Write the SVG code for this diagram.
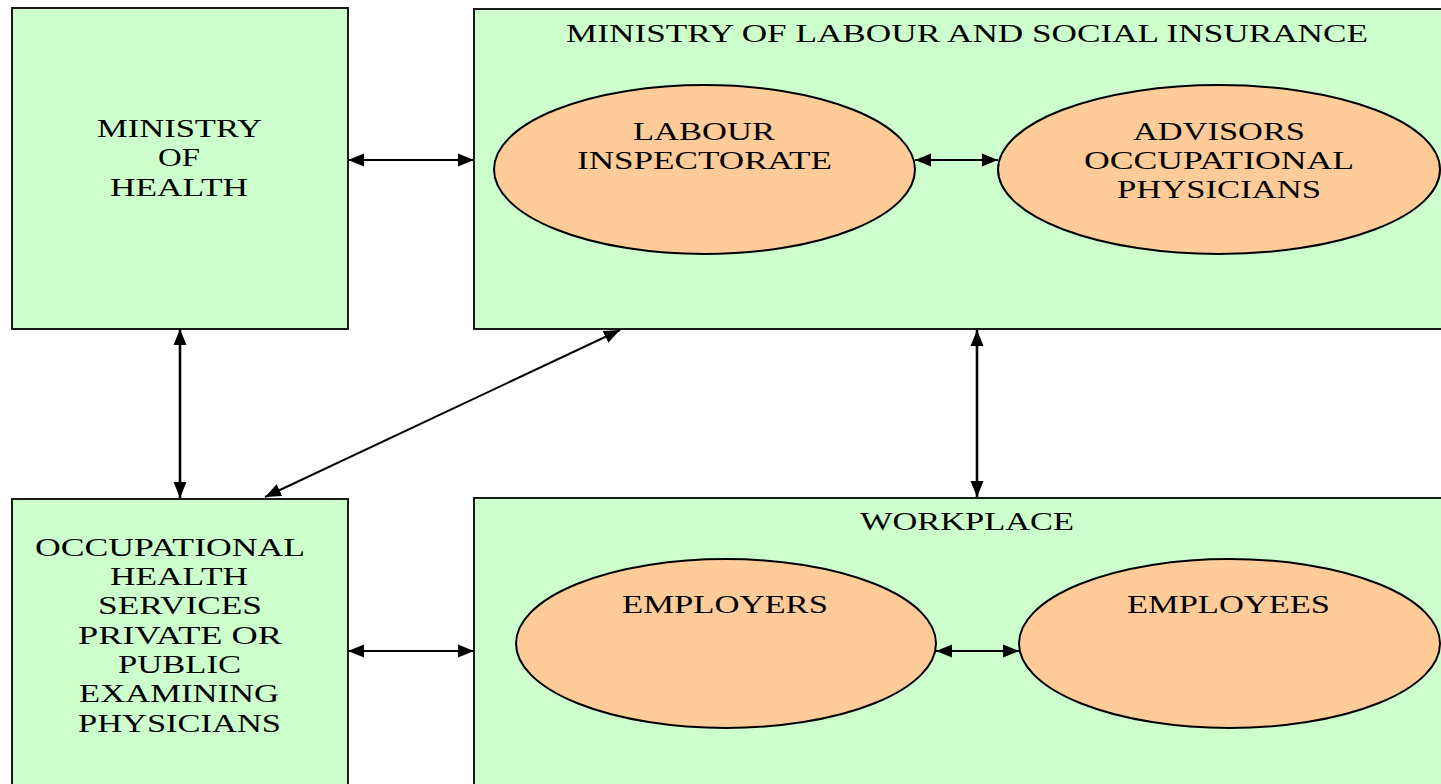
<svg xmlns="http://www.w3.org/2000/svg" width="1441" height="784" viewBox="0 0 1441 784">
<defs>
<style>
.box{fill:#CCFFCC;stroke:#1a1a1a;stroke-width:2}
.ell{fill:#FFCC99;stroke:#000;stroke-width:2}
.t{font-family:"Liberation Serif","Times New Roman",serif;font-size:26px;fill:#000}
.c{stroke:#000;stroke-width:2;fill:none;marker-start:url(#ah);marker-end:url(#ah)}
.v{stroke-width:2.6}
</style>
<marker id="ah" markerUnits="userSpaceOnUse" markerWidth="16" markerHeight="14" refX="16" refY="7" orient="auto-start-reverse">
<path d="M0,0.5 L16,7 L0,13.5 z" fill="#000"/>
</marker>
</defs>
<rect width="1441" height="784" fill="#fff"/>
<g id="ministry-health">
<rect class="box" x="12" y="8" width="336" height="321"/>
<text class="t" x="97" y="137" textLength="165" lengthAdjust="spacingAndGlyphs">MINISTRY</text>
<text class="t" x="158" y="166" textLength="42" lengthAdjust="spacingAndGlyphs">OF</text>
<text class="t" x="110" y="196" textLength="138" lengthAdjust="spacingAndGlyphs">HEALTH</text>
</g>
<g id="ministry-labour">
<rect class="box" x="474" y="9" width="975" height="320"/>
<text class="t" x="566" y="42" textLength="802" lengthAdjust="spacingAndGlyphs">MINISTRY OF LABOUR AND SOCIAL INSURANCE</text>
</g>
<g id="labour-inspectorate">
<ellipse class="ell" cx="704.5" cy="169.5" rx="210.5" ry="84.5"/>
<text class="t" x="633" y="140" textLength="142" lengthAdjust="spacingAndGlyphs">LABOUR</text>
<text class="t" x="577" y="169" textLength="255" lengthAdjust="spacingAndGlyphs">INSPECTORATE</text>
</g>
<g id="advisors">
<ellipse class="ell" cx="1219" cy="169.5" rx="221" ry="84.5"/>
<text class="t" x="1133" y="140" textLength="172" lengthAdjust="spacingAndGlyphs">ADVISORS</text>
<text class="t" x="1084" y="169" textLength="270" lengthAdjust="spacingAndGlyphs">OCCUPATIONAL</text>
<text class="t" x="1117" y="198" textLength="204" lengthAdjust="spacingAndGlyphs">PHYSICIANS</text>
</g>
<g id="ohs">
<rect class="box" x="12" y="499" width="336" height="295"/>
<text class="t" x="35" y="556" textLength="270" lengthAdjust="spacingAndGlyphs">OCCUPATIONAL</text>
<text class="t" x="110" y="585" textLength="138" lengthAdjust="spacingAndGlyphs">HEALTH</text>
<text class="t" x="98" y="614" textLength="164" lengthAdjust="spacingAndGlyphs">SERVICES</text>
<text class="t" x="78" y="644" textLength="204" lengthAdjust="spacingAndGlyphs">PRIVATE OR</text>
<text class="t" x="118" y="673" textLength="123" lengthAdjust="spacingAndGlyphs">PUBLIC</text>
<text class="t" x="79" y="702" textLength="200" lengthAdjust="spacingAndGlyphs">EXAMINING</text>
<text class="t" x="78" y="732" textLength="203" lengthAdjust="spacingAndGlyphs">PHYSICIANS</text>
</g>
<g id="workplace">
<rect class="box" x="474" y="498" width="975" height="296"/>
<text class="t" x="860" y="530" textLength="214" lengthAdjust="spacingAndGlyphs">WORKPLACE</text>
</g>
<g id="employers">
<ellipse class="ell" cx="726" cy="643.5" rx="210" ry="84.5"/>
<text class="t" x="622" y="613" textLength="206" lengthAdjust="spacingAndGlyphs">EMPLOYERS</text>
</g>
<g id="employees">
<ellipse class="ell" cx="1229.5" cy="643.5" rx="210.5" ry="84.5"/>
<text class="t" x="1127" y="613" textLength="203" lengthAdjust="spacingAndGlyphs">EMPLOYEES</text>
</g>
<g id="connectors">
<line class="c" x1="348" y1="160" x2="474" y2="160"/>
<line class="c" x1="915" y1="160" x2="998" y2="160"/>
<line class="c v" x1="180" y1="329" x2="180" y2="498"/>
<line class="c" x1="620" y1="330" x2="265" y2="497"/>
<line class="c v" x1="977" y1="330" x2="977" y2="497"/>
<line class="c" x1="348" y1="651" x2="474" y2="651"/>
<line class="c" x1="936" y1="651" x2="1019" y2="651"/>
</g>
</svg>
